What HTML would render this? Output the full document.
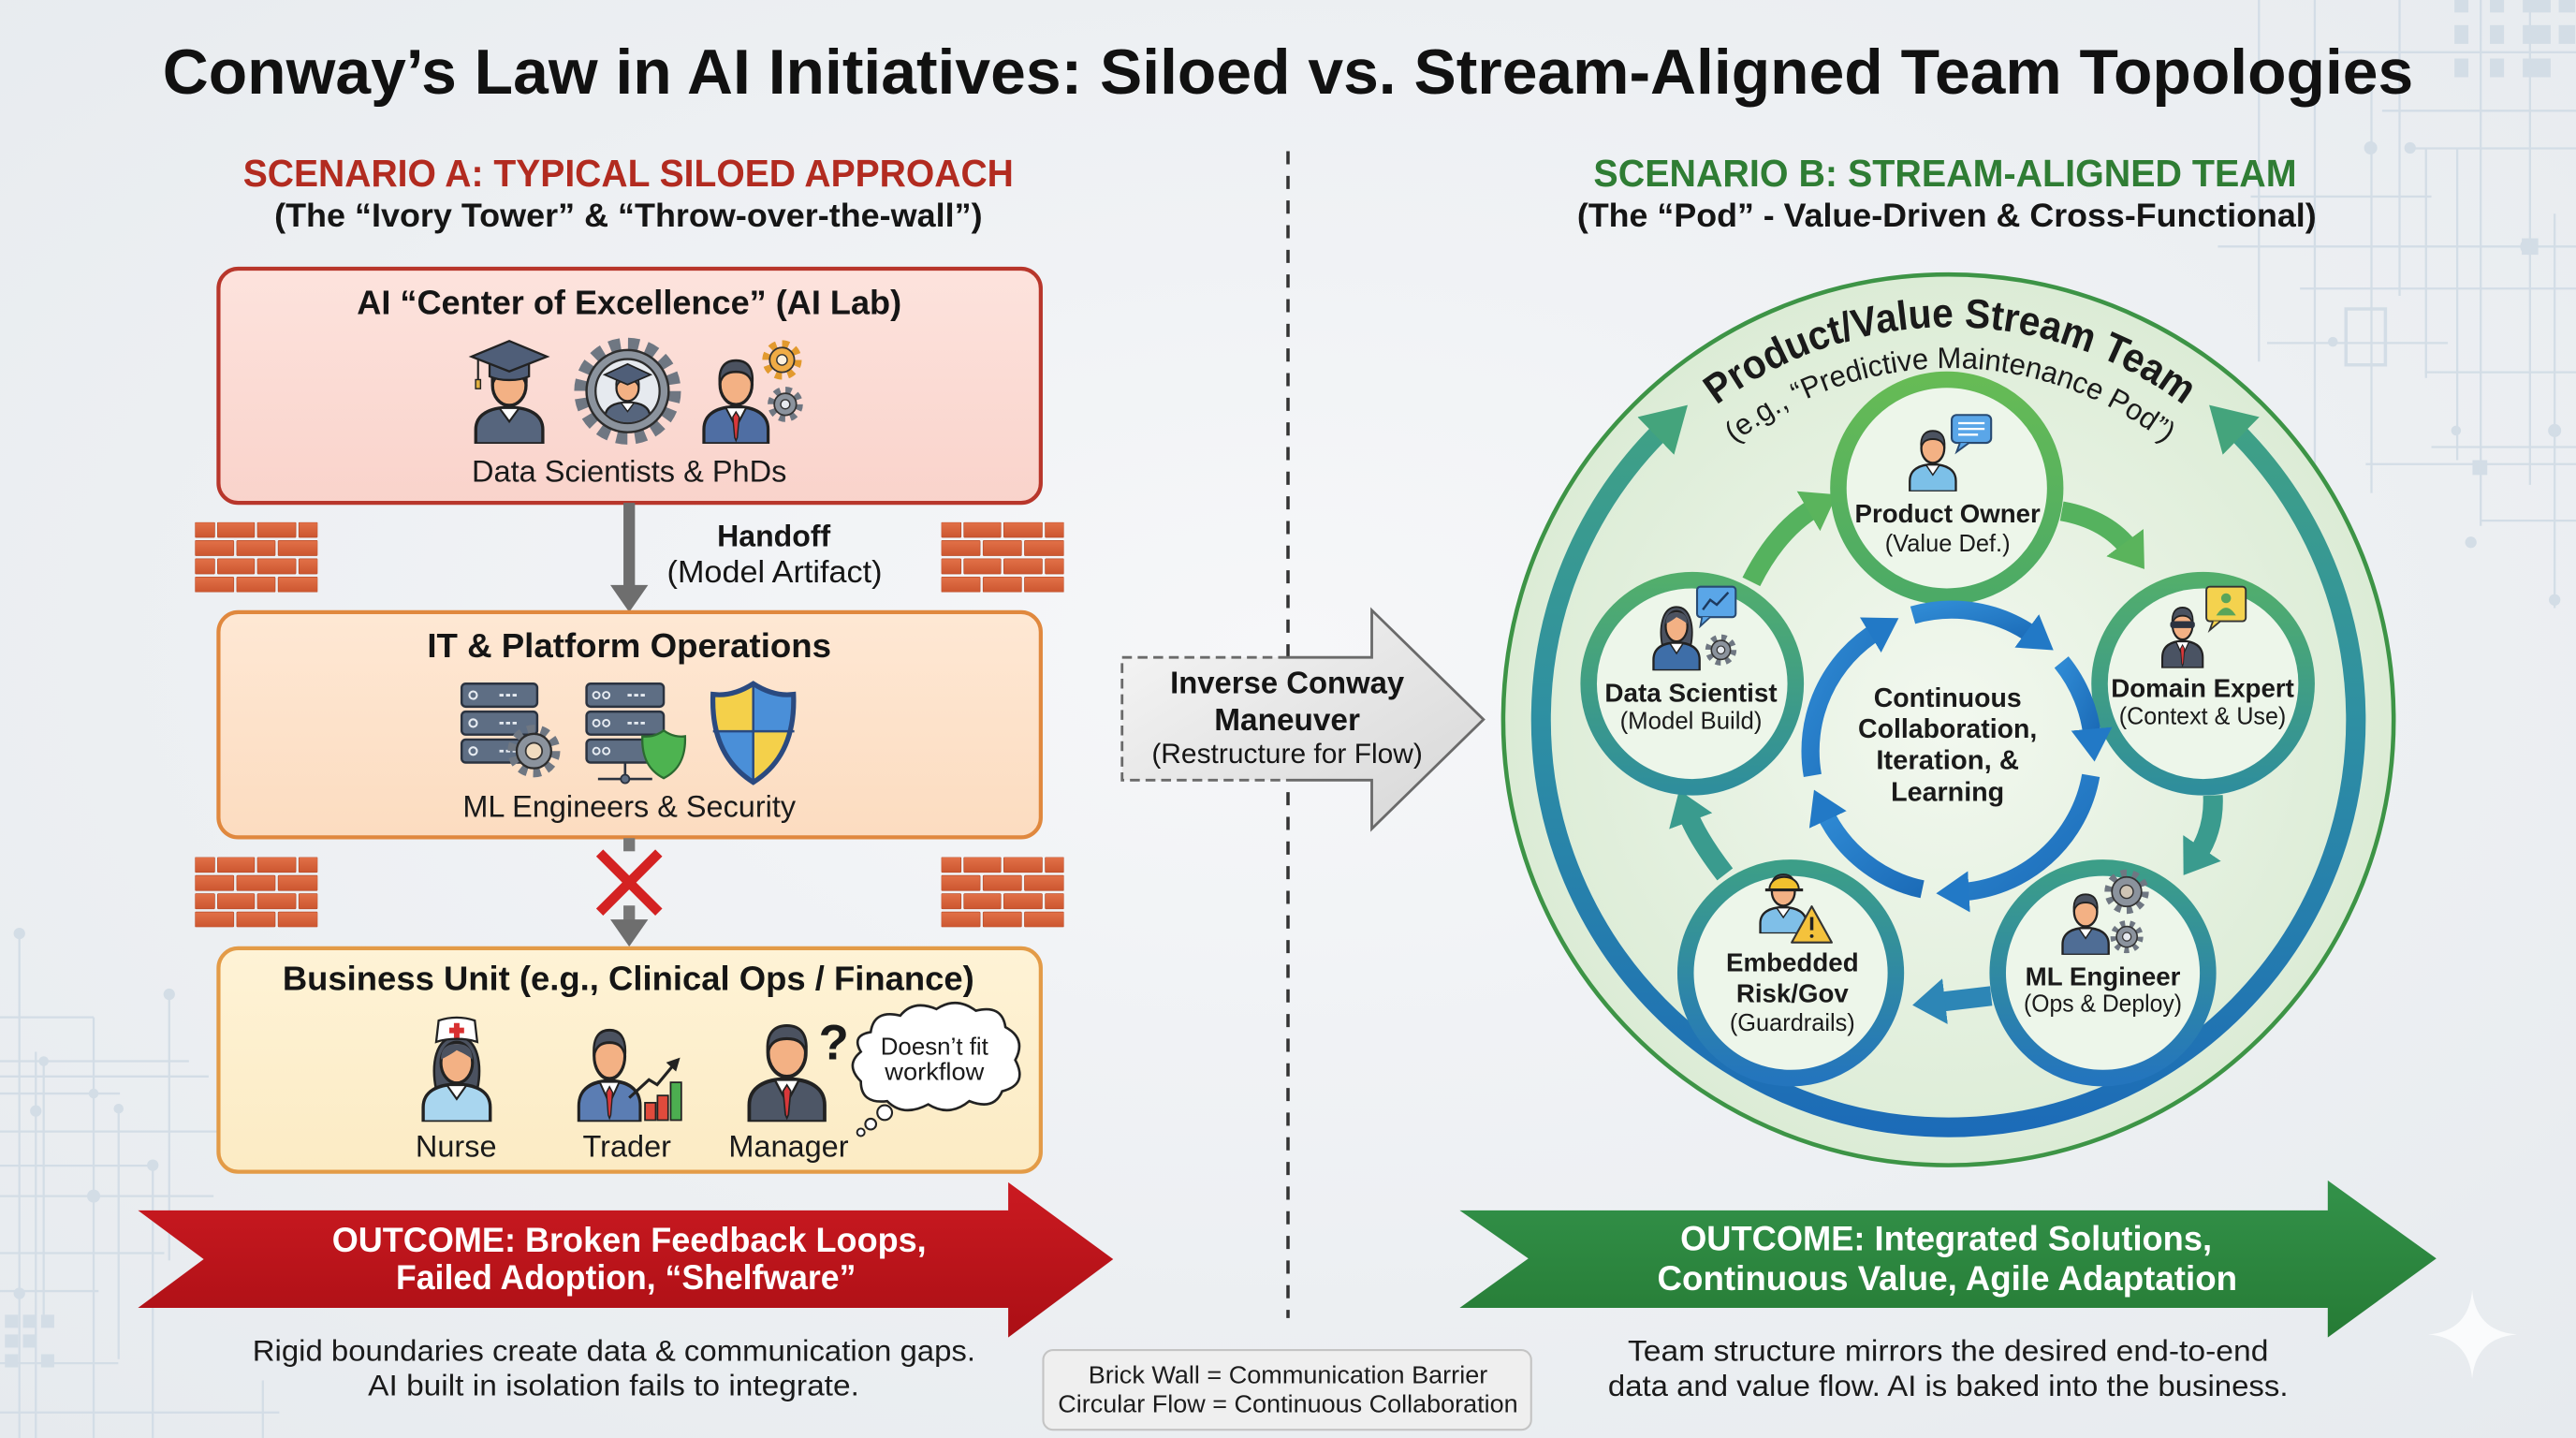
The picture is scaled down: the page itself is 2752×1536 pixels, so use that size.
<!DOCTYPE html>
<html><head><meta charset="utf-8">
<style>
html,body{margin:0;padding:0;background:#edf0f3;}
svg{display:block;}
text{font-family:"Liberation Sans",Arial,sans-serif;}
</style></head><body>
<svg xmlns="http://www.w3.org/2000/svg" width="2752" height="1536" viewBox="0 0 1568 875" preserveAspectRatio="none">
<defs>
<radialGradient id="bg" cx="50%" cy="45%" r="75%"><stop offset="0" stop-color="#f6f7f9"/><stop offset="1" stop-color="#e6eaee"/></radialGradient>
<linearGradient id="gb1" x1="0" y1="0" x2="0" y2="1"><stop offset="0" stop-color="#fde3dd"/><stop offset="1" stop-color="#f9d3cb"/></linearGradient>
<linearGradient id="gb2" x1="0" y1="0" x2="0" y2="1"><stop offset="0" stop-color="#fee8d4"/><stop offset="1" stop-color="#fcdcc0"/></linearGradient>
<linearGradient id="gb3" x1="0" y1="0" x2="0" y2="1"><stop offset="0" stop-color="#fef3d6"/><stop offset="1" stop-color="#fcebc4"/></linearGradient>
<linearGradient id="gred" x1="0" y1="0" x2="0" y2="1"><stop offset="0" stop-color="#cb1a21"/><stop offset="1" stop-color="#ab0f15"/></linearGradient>
<linearGradient id="ggrn" x1="0" y1="0" x2="0" y2="1"><stop offset="0" stop-color="#33924a"/><stop offset="1" stop-color="#267b35"/></linearGradient>
<linearGradient id="gicm" x1="0" y1="0" x2="1" y2="1"><stop offset="0" stop-color="#f6f6f6"/><stop offset="1" stop-color="#d6d6d6"/></linearGradient>
<linearGradient id="gbrick" x1="0" y1="0" x2="0" y2="1"><stop offset="0" stop-color="#e27148"/><stop offset="1" stop-color="#cc5630"/></linearGradient>
<radialGradient id="gcirc" cx="50%" cy="50%" r="50%"><stop offset="0" stop-color="#f2f8ef"/><stop offset="1" stop-color="#dcecd6"/></radialGradient>
<linearGradient id="gring" gradientUnits="userSpaceOnUse" x1="0" y1="190" x2="0" y2="690"><stop offset="0" stop-color="#46a77a"/><stop offset="0.5" stop-color="#2e8fa3"/><stop offset="1" stop-color="#1c6bb8"/></linearGradient>
<linearGradient id="rPO" x1="0" y1="0" x2="0" y2="1"><stop offset="0" stop-color="#66bb55"/><stop offset="1" stop-color="#4caa66"/></linearGradient>
<linearGradient id="rDS" x1="0" y1="0" x2="0" y2="1"><stop offset="0" stop-color="#52ae6c"/><stop offset="1" stop-color="#2f8e9c"/></linearGradient>
<linearGradient id="rEM" x1="0" y1="0" x2="0" y2="1"><stop offset="0" stop-color="#3c9e88"/><stop offset="1" stop-color="#2475bd"/></linearGradient>
<linearGradient id="ginner" x1="0" y1="0" x2="1" y2="1"><stop offset="0" stop-color="#2f8ad4"/><stop offset="1" stop-color="#1c6cb8"/></linearGradient>

<marker id="mOuter" viewBox="0 0 10 10" refX="3" refY="5" markerWidth="27" markerHeight="32" markerUnits="userSpaceOnUse" orient="auto-start-reverse" preserveAspectRatio="none"><path d="M0,0 L10,5 L0,10 Z" fill="#44a47c"/></marker>
<marker id="mIn" viewBox="0 0 10 10" refX="3" refY="5" markerWidth="20" markerHeight="25" markerUnits="userSpaceOnUse" orient="auto" preserveAspectRatio="none"><path d="M0,0 L10,5 L0,10 Z" fill="#2279c6"/></marker>
<marker id="mG" viewBox="0 0 10 10" refX="3" refY="5" markerWidth="20" markerHeight="28" markerUnits="userSpaceOnUse" orient="auto" preserveAspectRatio="none"><path d="M0,0 L10,5 L0,10 Z" fill="#5ab45c"/></marker>
<marker id="mT" viewBox="0 0 10 10" refX="3" refY="5" markerWidth="20" markerHeight="28" markerUnits="userSpaceOnUse" orient="auto" preserveAspectRatio="none"><path d="M0,0 L10,5 L0,10 Z" fill="#3a9b8e"/></marker>
<marker id="mB" viewBox="0 0 10 10" refX="3" refY="5" markerWidth="20" markerHeight="28" markerUnits="userSpaceOnUse" orient="auto" preserveAspectRatio="none"><path d="M0,0 L10,5 L0,10 Z" fill="#2d86b6"/></marker>

<symbol id="p" viewBox="0 0 40 44" preserveAspectRatio="none">
<path d="M3,44 V37 C3,29.5 10,26 20,26 C30,26 37,29.5 37,37 V44 Z" fill="currentColor" stroke="#222" stroke-width="1.6"/>
<path d="M15,26.3 L20,33 L25,26.3 Z" fill="#fff" stroke="#222" stroke-width="1"/>
<ellipse cx="20" cy="15" rx="8.5" ry="10" fill="#f3b184" stroke="#222" stroke-width="1.6"/>
<path d="M11.4,15 C10.5,6.5 14.5,3.5 20,3.5 C25.5,3.5 29.5,6.5 28.6,15 C27.5,10.5 24.5,9 20,9 C15.5,9 12.5,10.5 11.4,15 Z" fill="#4b5260" stroke="#222" stroke-width="1.2"/>
</symbol>
<symbol id="pt" viewBox="0 0 40 44" preserveAspectRatio="none">
<path d="M3,44 V37 C3,29.5 10,26 20,26 C30,26 37,29.5 37,37 V44 Z" fill="currentColor" stroke="#222" stroke-width="1.6"/>
<path d="M14.5,26.3 L20,36 L25.5,26.3 Z" fill="#fff" stroke="#222" stroke-width="1"/>
<path d="M20,28.5 L18.3,31 L19.3,41 L20,42.5 L20.7,41 L21.7,31 Z" fill="#d8383a" stroke="#222" stroke-width="0.7"/>
<ellipse cx="20" cy="15" rx="8.5" ry="10" fill="#f3b184" stroke="#222" stroke-width="1.6"/>
<path d="M11.4,15 C10.5,6.5 14.5,3.5 20,3.5 C25.5,3.5 29.5,6.5 28.6,15 C27.5,10.5 24.5,9 20,9 C15.5,9 12.5,10.5 11.4,15 Z" fill="#4b5260" stroke="#222" stroke-width="1.2"/>
</symbol>
<symbol id="pw" viewBox="0 0 40 44" preserveAspectRatio="none">
<path d="M9.5,28 C7,17 9,3 20,3 C31,3 33,17 30.5,28 Z" fill="#4b5260" stroke="#222" stroke-width="1.2"/>
<path d="M3,44 V37 C3,29.5 10,26 20,26 C30,26 37,29.5 37,37 V44 Z" fill="currentColor" stroke="#222" stroke-width="1.6"/>
<path d="M15,26.3 L20,33 L25,26.3 Z" fill="#fff" stroke="#222" stroke-width="1"/>
<ellipse cx="20" cy="15.5" rx="8" ry="9.8" fill="#f3b184" stroke="#222" stroke-width="1.5"/>
<path d="M12,14 C12,8 15.5,6.5 20,6.5 C24.5,6.5 28,8 28,14 C25,11.5 22,10.5 20,9.5 C18,11 15,12.5 12,14 Z" fill="#4b5260"/>
</symbol>
<symbol id="brick" viewBox="0 0 74.6 42.5" preserveAspectRatio="none">
<g fill="url(#gbrick)" stroke="#b84c2a" stroke-width="0.4">
<rect x="0" y="0" width="12" height="9.2" rx="0.6"/><rect x="13.7" y="0" width="22.5" height="9.2" rx="0.6"/><rect x="38" y="0" width="23.4" height="9.2" rx="0.6"/><rect x="63.2" y="0" width="11.4" height="9.2" rx="0.6"/>
<rect x="0" y="11.1" width="23.6" height="9.2" rx="0.6"/><rect x="25.4" y="11.1" width="23.4" height="9.2" rx="0.6"/><rect x="50.6" y="11.1" width="24" height="9.2" rx="0.6"/>
<rect x="0" y="22.2" width="12" height="9.2" rx="0.6"/><rect x="13.7" y="22.2" width="22.5" height="9.2" rx="0.6"/><rect x="38" y="22.2" width="23.4" height="9.2" rx="0.6"/><rect x="63.2" y="22.2" width="11.4" height="9.2" rx="0.6"/>
<rect x="0" y="33.3" width="23.6" height="9.2" rx="0.6"/><rect x="25.4" y="33.3" width="23.4" height="9.2" rx="0.6"/><rect x="50.6" y="33.3" width="24" height="9.2" rx="0.6"/>
</g>
</symbol>
<clipPath id="gclip"><circle cx="382" cy="238" r="19"/></clipPath>
<clipPath id="shclip"><path d="M458.5,416 C467,421.5 475,423.5 483,422.5 C484,447 476,465 458.5,476 C441,465 433,447 434,422.5 C442,423.5 450,421.5 458.5,416 Z"/></clipPath>
<path id="arcT" d="M1035.3,254.2 A236,236 0 0,1 1338.7,254.2" fill="none"/>
<path id="arcS" d="M1040.4,283.2 A211,211 0 0,1 1333.6,283.2" fill="none"/>
</defs>

<!-- background -->
<rect x="0" y="0" width="1568" height="875" fill="url(#bg)"/>
<g stroke="#d3dde6" stroke-width="1.3" fill="none">
<path d="M1375,0V220 M1409,0V300 M1443.5,50V300 M1460.6,0V180 M1476.7,90V230 M1495.7,90V280 M1510,0V320 M1540,0V295 M1555,130V370"/>
<path d="M1420,31.8H1568 M1450,67.4H1568 M1470,90.3H1568 M1370,119.6H1480 M1350,150H1568 M1400,175.6H1568 M1380,208.7H1490 M1476,226.5H1568 M1480,272H1568 M1440,282.4H1568 M1510,316.8H1568"/>
<path d="M1428,188V222 H1452 V188 Z" stroke-width="2"/>
<path d="M11.8,568V875 M21.8,640V875 M26.6,645V800 M57,619V875 M72.2,675V827 M93,709V875 M103,605V767 M160,840V875"/>
<path d="M0,619H57 M0,645.7H115 M0,655H127 M0,665.4H73 M0,688.5H133 M0,709.3H93 M0,727.8H130 M0,762.5H100 M0,785.6H60 M0,829.5H72 M0,859.5H170"/>
</g>
<g fill="#d3dde6">
<circle cx="1467" cy="90" r="3.5"/><circle cx="1539" cy="150" r="5"/><circle cx="1420" cy="208" r="3"/><circle cx="1495" cy="262" r="3"/><circle cx="1555" cy="262" r="4"/><circle cx="1504" cy="330" r="3.5"/><circle cx="1555" cy="365" r="3.5"/><circle cx="1443" cy="90" r="4"/>
<rect x="1494" y="0" width="8.5" height="7.6"/><rect x="1515.6" y="0" width="8.6" height="7.6"/><rect x="1535.6" y="0" width="17" height="7.6"/><rect x="1557.5" y="0" width="10" height="7.6"/>
<rect x="1494" y="15.3" width="8.5" height="11.4"/><rect x="1515.6" y="15.3" width="8.6" height="11.4"/><rect x="1535.6" y="15.3" width="17" height="11.4"/><rect x="1557.5" y="15.3" width="10" height="11.4"/>
<rect x="1494" y="35.6" width="8.5" height="11.4"/><rect x="1515.6" y="35.6" width="8.6" height="11.4"/><rect x="1535.6" y="35.6" width="17" height="11.4"/><rect x="1535" y="145" width="10" height="10"/><rect x="1505" y="280" width="9" height="9"/>
<circle cx="11.8" cy="568" r="3.5"/><circle cx="103" cy="605" r="3.5"/><circle cx="26.6" cy="645.7" r="3"/><circle cx="57" cy="665.4" r="3"/><circle cx="21.8" cy="676" r="3.5"/><circle cx="72.2" cy="674.6" r="3"/><circle cx="93" cy="709" r="3.5"/><circle cx="57" cy="727.8" r="4"/><circle cx="11.8" cy="787" r="3.5"/>
<rect x="3" y="800" width="8" height="8"/><rect x="14" y="800" width="8" height="8"/><rect x="25" y="800" width="8" height="8"/><rect x="3" y="812" width="8" height="8"/><rect x="14" y="812" width="8" height="8"/><rect x="3" y="824" width="8" height="8"/><rect x="25" y="824" width="8" height="8"/>
</g>
<path d="M1504.8,785 Q1507,810 1532,812 Q1507,814 1504.8,839 Q1502.6,814 1478,812 Q1502.6,810 1504.8,785 Z" fill="#fafbfc"/>

<!-- title -->
<text x="784" y="57" text-anchor="middle" font-size="38.5" font-weight="bold" fill="#111" textLength="1370" lengthAdjust="spacingAndGlyphs">Conway’s Law in AI Initiatives: Siloed vs. Stream-Aligned Team Topologies</text>

<!-- divider -->
<line x1="784" y1="92" x2="784" y2="802" stroke="#333" stroke-width="2" stroke-dasharray="8 7"/>

<!-- scenario headings -->
<text x="382.5" y="113.5" text-anchor="middle" font-size="23" font-weight="bold" fill="#b22b20" textLength="469" lengthAdjust="spacingAndGlyphs">SCENARIO A: TYPICAL SILOED APPROACH</text>
<text x="382.5" y="138" text-anchor="middle" font-size="20" font-weight="bold" fill="#151515" textLength="431" lengthAdjust="spacingAndGlyphs">(The “Ivory Tower” &amp; “Throw-over-the-wall”)</text>
<text x="1184" y="113.5" text-anchor="middle" font-size="23" font-weight="bold" fill="#2f7d34" textLength="428" lengthAdjust="spacingAndGlyphs">SCENARIO B: STREAM-ALIGNED TEAM</text>
<text x="1185" y="138" text-anchor="middle" font-size="20" font-weight="bold" fill="#151515" textLength="450" lengthAdjust="spacingAndGlyphs">(The “Pod” - Value-Driven &amp; Cross-Functional)</text>

<!-- ===== Scenario A ===== -->
<!-- Box 1 -->
<rect x="133" y="163.5" width="500.5" height="142.5" rx="12" fill="url(#gb1)" stroke="#b8362b" stroke-width="2.4"/>
<text x="383" y="191" text-anchor="middle" font-size="20.5" font-weight="bold" fill="#151515" textLength="331.5" lengthAdjust="spacingAndGlyphs">AI “Center of Excellence” (AI Lab)</text>
<!-- graduate -->
<use href="#p" x="286" y="216" width="48" height="54" style="color:#56657d"/>
<path d="M298,221 V229 C304,232 316,232 322,229 V221" fill="#4f5e78" stroke="#222" stroke-width="1.3"/>
<path d="M287,217 L310,207.5 L333,217 L310,226 Z" fill="#4f5e78" stroke="#222" stroke-width="1.3"/>
<line x1="291" y1="218" x2="291" y2="232" stroke="#222" stroke-width="1.2"/>
<rect x="289.5" y="231" width="3" height="5.5" fill="#e0b040" stroke="#222" stroke-width="0.8"/>
<!-- gear graduate -->
<circle cx="382" cy="238" r="28" fill="none" stroke="#6f7782" stroke-width="9" stroke-dasharray="6.5 4.5"/>
<circle cx="382" cy="238" r="25" fill="#8b939d" stroke="#2d2d2d" stroke-width="1.4"/>
<circle cx="382" cy="238" r="19.5" fill="#e6eaef" stroke="#2d2d2d" stroke-width="1.3"/>
<g clip-path="url(#gclip)"><use href="#p" x="366" y="224" width="32" height="35.2" style="color:#56657d"/></g>
<path d="M368,228 L382,221.5 L396,228 L382,234 Z" fill="#4f5e78" stroke="#222" stroke-width="1"/>
<!-- man with gears -->
<use href="#pt" x="425" y="215" width="46" height="55" style="color:#4f6ea3"/>
<circle cx="476" cy="219" r="9.5" fill="none" stroke="#e29a2e" stroke-width="5" stroke-dasharray="4 3.46"/>
<circle cx="476" cy="219" r="7.5" fill="#f0ac45" stroke="#333" stroke-width="1"/>
<circle cx="476" cy="219" r="3.2" fill="#fdf0dc" stroke="#333" stroke-width="0.8"/>
<circle cx="478" cy="246" r="8.5" fill="none" stroke="#6f7782" stroke-width="4.5" stroke-dasharray="3.6 3.08"/>
<circle cx="478" cy="246" r="6.7" fill="#8b939d" stroke="#333" stroke-width="1"/>
<circle cx="478" cy="246" r="2.8" fill="#e6eaef" stroke="#333" stroke-width="0.8"/>
<text x="383" y="293" text-anchor="middle" font-size="18.5" fill="#1a1a1a" textLength="191.7" lengthAdjust="spacingAndGlyphs">Data Scientists &amp; PhDs</text>

<!-- handoff -->
<line x1="383" y1="306" x2="383" y2="358" stroke="#6e6e6e" stroke-width="7"/>
<polygon points="371.5,356 394.5,356 383,372.5" fill="#6e6e6e"/>
<text x="471" y="332.5" text-anchor="middle" font-size="18.5" font-weight="bold" fill="#151515" textLength="69" lengthAdjust="spacingAndGlyphs">Handoff</text>
<text x="471.5" y="354.3" text-anchor="middle" font-size="19" fill="#151515" textLength="131" lengthAdjust="spacingAndGlyphs">(Model Artifact)</text>
<use href="#brick" x="118.7" y="317.8" width="74.6" height="42.5"/>
<use href="#brick" x="573" y="317.8" width="74.6" height="42.5"/>

<!-- Box 2 -->
<rect x="133" y="372.5" width="500.5" height="137" rx="12" fill="url(#gb2)" stroke="#e0883e" stroke-width="2.4"/>
<text x="383" y="400" text-anchor="middle" font-size="20.5" font-weight="bold" fill="#151515" textLength="246" lengthAdjust="spacingAndGlyphs">IT &amp; Platform Operations</text>
<!-- server A -->
<g fill="#5e6e84" stroke="#2b3340" stroke-width="1.4">
<rect x="281" y="416" width="46" height="14" rx="2.5"/><rect x="281" y="433" width="46" height="14" rx="2.5"/><rect x="281" y="450" width="46" height="14" rx="2.5"/>
</g>
<g fill="none" stroke="#e6ebf1" stroke-width="1.2">
<circle cx="288" cy="423" r="2.3"/><circle cx="288" cy="440" r="2.3"/><circle cx="288" cy="457" r="2.3"/>
<path d="M304,423H316 M304,440H316 M304,457H316" stroke-width="1.6" stroke-dasharray="2.5 1.5"/>
</g>
<circle cx="325" cy="457" r="13" fill="none" stroke="#6f7782" stroke-width="6" stroke-dasharray="4.5 3.67"/>
<circle cx="325" cy="457" r="10.5" fill="#8b939d" stroke="#2d2d2d" stroke-width="1.3"/>
<circle cx="325" cy="457" r="5" fill="#f0dcc0" stroke="#333" stroke-width="1"/>
<!-- server B -->
<g fill="#5e6e84" stroke="#2b3340" stroke-width="1.4">
<rect x="357" y="416" width="47" height="14" rx="2.5"/><rect x="357" y="433" width="47" height="14" rx="2.5"/><rect x="357" y="450" width="47" height="14" rx="2.5"/>
</g>
<g fill="none" stroke="#e6ebf1" stroke-width="1.1">
<circle cx="363" cy="423" r="2"/><circle cx="369" cy="423" r="2"/><circle cx="363" cy="440" r="2"/><circle cx="369" cy="440" r="2"/><circle cx="363" cy="457" r="2"/><circle cx="369" cy="457" r="2"/>
<path d="M382,423H394 M382,440H394" stroke-width="1.6" stroke-dasharray="2.5 1.5"/>
</g>
<path d="M380.5,464V474 M364,474H397" stroke="#2b3340" stroke-width="1.5"/>
<circle cx="380.5" cy="474" r="2.6" fill="#5e6e84" stroke="#2b3340" stroke-width="1"/>
<path d="M404,444.5 C409,448 413,448.5 417,448 C417.5,461 413,469 404,473.5 C395,469 390.5,461 391,448 C395,448.5 399,448 404,444.5 Z" fill="#4db350" stroke="#2b6a30" stroke-width="1.3"/>
<!-- shield -->
<g clip-path="url(#shclip)">
<rect x="430" y="414" width="28.5" height="31" fill="#f4d04a"/><rect x="458.5" y="414" width="28" height="31" fill="#4a8fd8"/>
<rect x="430" y="445" width="28.5" height="33" fill="#4a8fd8"/><rect x="458.5" y="445" width="28" height="33" fill="#f4d04a"/>
</g>
<path d="M458.5,416V476 M434,445H483.5" stroke="#2a4a80" stroke-width="1.4"/>
<path d="M458.5,416 C467,421.5 475,423.5 483,422.5 C484,447 476,465 458.5,476 C441,465 433,447 434,422.5 C442,423.5 450,421.5 458.5,416 Z" fill="none" stroke="#2a4a80" stroke-width="3"/>
<text x="383" y="497" text-anchor="middle" font-size="18.5" fill="#1a1a1a" textLength="202.7" lengthAdjust="spacingAndGlyphs">ML Engineers &amp; Security</text>

<!-- broken link -->
<line x1="383" y1="510" x2="383" y2="518" stroke="#777" stroke-width="7"/>
<line x1="383" y1="551" x2="383" y2="561" stroke="#777" stroke-width="7"/>
<polygon points="371.5,559.5 394.5,559.5 383,576" fill="#6e6e6e"/>
<path d="M365,519 L401,555 M401,519 L365,555" stroke="#d42222" stroke-width="6"/>
<use href="#brick" x="118.7" y="521.6" width="74.6" height="42.5"/>
<use href="#brick" x="573" y="521.6" width="74.6" height="42.5"/>

<!-- Box 3 -->
<rect x="133" y="577" width="500.5" height="136" rx="12" fill="url(#gb3)" stroke="#e39b47" stroke-width="2.4"/>
<text x="382.5" y="602.3" text-anchor="middle" font-size="20.5" font-weight="bold" fill="#151515" textLength="421" lengthAdjust="spacingAndGlyphs">Business Unit (e.g., Clinical Ops / Finance)</text>
<!-- nurse -->
<use href="#pw" x="254" y="627" width="48" height="55.6" style="color:#a9d6ef"/>
<path d="M265.5,634 L267,621 C274,618.5 282,618.5 289,621 L290.5,634 C283,631.5 273,631.5 265.5,634 Z" fill="#fff" stroke="#222" stroke-width="1.3"/>
<rect x="276.3" y="622.5" width="3.4" height="9" fill="#d83030"/><rect x="273.5" y="625.3" width="9" height="3.4" fill="#d83030"/>
<!-- trader -->
<use href="#pt" x="349" y="622" width="44" height="60.6" style="color:#5b7db3"/>
<g stroke="#222" stroke-width="1">
<rect x="392.6" y="671" width="6.5" height="10.6" fill="#e04b3c"/>
<rect x="400.2" y="666.6" width="6.5" height="15" fill="#e04b3c"/>
<rect x="408.2" y="658.6" width="6.5" height="23" fill="#4cae50"/>
</g>
<polyline points="383,668 395,657 400,660 410,648" fill="none" stroke="#222" stroke-width="1.8"/>
<polygon points="414,643.5 405.5,646.5 411.5,652" fill="#222"/>
<!-- manager -->
<use href="#pt" x="452" y="619" width="54" height="63.6" style="color:#4d5666"/>
<text x="507.5" y="644.5" text-anchor="middle" font-size="30" font-weight="bold" fill="#1a1a1a">?</text>
<!-- cloud -->
<path d="M530,628 Q532,614 548,618 Q556,608 570,614 Q582,606 594,615 Q610,611 612,625 Q625,632 618,645 Q626,660 610,664 Q605,676 590,670 Q578,680 565,672 Q550,680 540,670 Q524,672 524,658 Q514,648 524,640 Q518,630 530,628 Z" fill="#fff" stroke="#222" stroke-width="1.5"/>
<circle cx="538.5" cy="677" r="4.5" fill="#fff" stroke="#222" stroke-width="1.2"/>
<circle cx="530" cy="684" r="3.3" fill="#fff" stroke="#222" stroke-width="1.2"/>
<circle cx="524" cy="689" r="2.3" fill="#fff" stroke="#222" stroke-width="1.1"/>
<text x="568.8" y="641.6" text-anchor="middle" font-size="14.7" fill="#1a1a1a" textLength="65.6" lengthAdjust="spacingAndGlyphs">Doesn’t fit</text>
<text x="568.8" y="657" text-anchor="middle" font-size="14.7" fill="#1a1a1a" textLength="60.4" lengthAdjust="spacingAndGlyphs">workflow</text>
<text x="277.6" y="703.7" text-anchor="middle" font-size="18.5" fill="#1a1a1a">Nurse</text>
<text x="381.6" y="703.7" text-anchor="middle" font-size="18.5" fill="#1a1a1a">Trader</text>
<text x="480" y="703.7" text-anchor="middle" font-size="18.5" fill="#1a1a1a">Manager</text>

<!-- red outcome -->
<polygon points="84,736.5 613.7,736.5 613.7,719.4 677.6,766.2 613.7,813.8 613.7,795.8 84,795.8 124,766.2" fill="url(#gred)"/>
<text x="383" y="761.6" text-anchor="middle" font-size="21" font-weight="bold" fill="#fff" textLength="361.8" lengthAdjust="spacingAndGlyphs">OUTCOME: Broken Feedback Loops,</text>
<text x="381" y="784.4" text-anchor="middle" font-size="21" font-weight="bold" fill="#fff" textLength="280" lengthAdjust="spacingAndGlyphs">Failed Adoption, “Shelfware”</text>
<text x="373.7" y="827.9" text-anchor="middle" font-size="18" fill="#1a1a1a" textLength="440" lengthAdjust="spacingAndGlyphs">Rigid boundaries create data &amp; communication gaps.</text>
<text x="373.5" y="849" text-anchor="middle" font-size="18" fill="#1a1a1a" textLength="299" lengthAdjust="spacingAndGlyphs">AI built in isolation fails to integrate.</text>

<!-- ===== Inverse Conway ===== -->
<polygon points="683,400 835,400 835,371.3 903,437.8 835,504.3 835,474.7 683,474.7" fill="url(#gicm)"/>
<polyline points="784,400 683,400 683,474.7 784,474.7" fill="none" stroke="#6a6a6a" stroke-width="1.6" stroke-dasharray="6 3.5"/>
<polyline points="784,400 835,400 835,371.3 903,437.8 835,504.3 835,474.7 784,474.7" fill="none" stroke="#6a6a6a" stroke-width="1.6" stroke-linejoin="miter"/>
<text x="783.5" y="421.7" text-anchor="middle" font-size="19" font-weight="bold" fill="#151515" textLength="142.5" lengthAdjust="spacingAndGlyphs">Inverse Conway</text>
<text x="783.5" y="444.4" text-anchor="middle" font-size="19" font-weight="bold" fill="#151515">Maneuver</text>
<text x="783.5" y="464.4" text-anchor="middle" font-size="17" fill="#151515" textLength="165" lengthAdjust="spacingAndGlyphs">(Restructure for Flow)</text>

<!-- legend -->
<rect x="635" y="821.5" width="297" height="48.5" rx="6" fill="#efefef" stroke="#c4c4c4" stroke-width="1.2"/>
<text x="784" y="841.6" text-anchor="middle" font-size="15" fill="#1c1c1c" textLength="243" lengthAdjust="spacingAndGlyphs">Brick Wall = Communication Barrier</text>
<text x="784" y="859.3" text-anchor="middle" font-size="15" fill="#1c1c1c" textLength="280" lengthAdjust="spacingAndGlyphs">Circular Flow = Continuous Collaboration</text>

<!-- ===== Scenario B ===== -->
<circle cx="1186" cy="438" r="271" fill="url(#gcirc)" stroke="#3d9446" stroke-width="2.6"/>
<path d="M1013.7,259.6 A248,248 0 1,0 1358.3,259.6" fill="none" stroke="url(#gring)" stroke-width="12" marker-start="url(#mOuter)" marker-end="url(#mOuter)"/>

<text font-size="25" font-weight="bold" fill="#1a1a1a"><textPath href="#arcT" startOffset="50%" text-anchor="middle" textLength="305" lengthAdjust="spacingAndGlyphs">Product/Value Stream Team</textPath></text>
<text font-size="18" fill="#1a1a1a"><textPath href="#arcS" startOffset="50%" text-anchor="middle" textLength="283" lengthAdjust="spacingAndGlyphs">(e.g., “Predictive Maintenance Pod”)</textPath></text>

<!-- connectors -->
<path d="M1066,354 Q1082,322 1106,308" fill="none" stroke="#55b25e" stroke-width="12" marker-end="url(#mG)"/>
<path d="M1255,311 Q1283,316 1297,335" fill="none" stroke="#55b25e" stroke-width="12" marker-end="url(#mG)"/>
<path d="M1347,484 Q1348,505 1337,521" fill="none" stroke="#3a9b8e" stroke-width="12" marker-end="url(#mT)"/>
<path d="M1212,606 L1178,610" fill="none" stroke="#2d86b6" stroke-width="12" marker-end="url(#mB)"/>
<path d="M1050,532 Q1033,510 1027,494" fill="none" stroke="#3a9b8e" stroke-width="12" marker-end="url(#mT)"/>

<!-- node circles -->
<circle cx="1185" cy="297" r="66" fill="#edf6ea" stroke="url(#rPO)" stroke-width="10"/>
<circle cx="1030" cy="416" r="63" fill="#edf6ea" stroke="url(#rDS)" stroke-width="10"/>
<circle cx="1341" cy="416" r="63" fill="#edf6ea" stroke="url(#rDS)" stroke-width="10"/>
<circle cx="1090" cy="592" r="64" fill="#edf6ea" stroke="url(#rEM)" stroke-width="10"/>
<circle cx="1280" cy="592" r="64" fill="#edf6ea" stroke="url(#rEM)" stroke-width="10"/>

<!-- inner ring -->
<g fill="none" stroke="url(#ginner)" stroke-width="11">
<path d="M1103.3,471.9 A86,86 0 0,1 1143.7,383.3" marker-end="url(#mIn)"/>
<path d="M1164.3,374.3 A86,86 0 0,1 1238.6,387.4" marker-end="url(#mIn)"/>
<path d="M1254.8,402.9 A86,86 0 0,1 1273.7,449.5" marker-end="url(#mIn)"/>
<path d="M1272.7,471.9 A86,86 0 0,1 1192.5,542.9" marker-end="url(#mIn)"/>
<path d="M1170.1,541.1 A86,86 0 0,1 1110.1,493.3" marker-end="url(#mIn)"/>
</g>
<text x="1185.5" y="430" text-anchor="middle" font-size="16.5" font-weight="bold" fill="#1a1a1a" textLength="90" lengthAdjust="spacingAndGlyphs">Continuous</text>
<text x="1185.5" y="449" text-anchor="middle" font-size="16.5" font-weight="bold" fill="#1a1a1a" textLength="109" lengthAdjust="spacingAndGlyphs">Collaboration,</text>
<text x="1185.5" y="468" text-anchor="middle" font-size="16.5" font-weight="bold" fill="#1a1a1a" textLength="87" lengthAdjust="spacingAndGlyphs">Iteration, &amp;</text>
<text x="1185.5" y="487.4" text-anchor="middle" font-size="16.5" font-weight="bold" fill="#1a1a1a" textLength="69" lengthAdjust="spacingAndGlyphs">Learning</text>

<!-- PO -->
<use href="#p" x="1160" y="259" width="33" height="40" style="color:#7cc0e8"/>
<rect x="1188" y="252.5" width="24" height="17" rx="3" fill="#5aa6e8" stroke="#284a72" stroke-width="1.2"/>
<path d="M1193,269.5 L1191,275 L1198.5,269.5" fill="#5aa6e8" stroke="#284a72" stroke-width="1.1"/>
<path d="M1192,257.5H1208 M1192,261H1208 M1192,264.5H1204" stroke="#fff" stroke-width="1.3"/>
<text x="1185.5" y="318" text-anchor="middle" font-size="16" font-weight="bold" fill="#1a1a1a" textLength="113" lengthAdjust="spacingAndGlyphs">Product Owner</text>
<text x="1185.5" y="335.5" text-anchor="middle" font-size="14.5" fill="#1a1a1a" textLength="76.3" lengthAdjust="spacingAndGlyphs">(Value Def.)</text>

<!-- DS -->
<use href="#pw" x="1004" y="366.5" width="33" height="41.5" style="color:#3e6ea8"/>
<rect x="1033" y="357" width="23.5" height="18.5" rx="2" fill="#5aa6e8" stroke="#284a72" stroke-width="1.2"/>
<path d="M1036,375.5 L1035,381 L1041,375.5" fill="#5aa6e8" stroke="#284a72" stroke-width="1"/>
<polyline points="1036.5,371 1041,365 1045,368 1052,360.5" fill="none" stroke="#1d3a5f" stroke-width="1.4"/>
<circle cx="1047.5" cy="395.5" r="7.5" fill="none" stroke="#6f7782" stroke-width="4" stroke-dasharray="3 2.9"/>
<circle cx="1047.5" cy="395.5" r="5.8" fill="#8b939d" stroke="#333" stroke-width="0.9"/>
<circle cx="1047.5" cy="395.5" r="2.4" fill="#e6eaef" stroke="#333" stroke-width="0.7"/>
<text x="1029.3" y="427" text-anchor="middle" font-size="16" font-weight="bold" fill="#1a1a1a" textLength="105" lengthAdjust="spacingAndGlyphs">Data Scientist</text>
<text x="1029.3" y="443.5" text-anchor="middle" font-size="14.5" fill="#1a1a1a" textLength="86.5" lengthAdjust="spacingAndGlyphs">(Model Build)</text>

<!-- DE -->
<use href="#pt" x="1314" y="366.5" width="29" height="40" style="color:#4a5363"/>
<rect x="1321" y="378" width="15" height="4.2" rx="1.6" fill="#2c3340"/>
<rect x="1343" y="357" width="24" height="21" rx="2" fill="#f4d24e" stroke="#333" stroke-width="1.1"/>
<path d="M1347,378 L1345,383.5 L1351.5,378" fill="#f4d24e" stroke="#333" stroke-width="1"/>
<circle cx="1355" cy="364" r="3" fill="#5aa55a"/>
<path d="M1349,374.5 Q1355,365 1361,374.5 Z" fill="#5aa55a"/>
<text x="1340.7" y="424" text-anchor="middle" font-size="16" font-weight="bold" fill="#1a1a1a" textLength="111.5" lengthAdjust="spacingAndGlyphs">Domain Expert</text>
<text x="1340.7" y="440.5" text-anchor="middle" font-size="14.5" fill="#1a1a1a" textLength="101.7" lengthAdjust="spacingAndGlyphs">(Context &amp; Use)</text>

<!-- Embedded -->
<use href="#p" x="1069" y="529" width="33" height="39" style="color:#7fbfe8"/>
<path d="M1077,541.5 C1077,531 1095,531 1095,541.5 Z" fill="#f2c12e" stroke="#222" stroke-width="1.1"/>
<line x1="1074.5" y1="541.5" x2="1097.5" y2="541.5" stroke="#222" stroke-width="1.8"/>
<polygon points="1102.8,551.5 1115,573.5 1090.6,573.5" fill="#f4c23c" stroke="#333" stroke-width="1.2" stroke-linejoin="round"/>
<line x1="1102.8" y1="558" x2="1102.8" y2="566" stroke="#222" stroke-width="2"/>
<circle cx="1102.8" cy="569.6" r="1.1" fill="#222"/>
<text x="1091" y="591" text-anchor="middle" font-size="16" font-weight="bold" fill="#1a1a1a" textLength="80.7" lengthAdjust="spacingAndGlyphs">Embedded</text>
<text x="1091" y="609.8" text-anchor="middle" font-size="16" font-weight="bold" fill="#1a1a1a" textLength="68.3" lengthAdjust="spacingAndGlyphs">Risk/Gov</text>
<text x="1091" y="627.3" text-anchor="middle" font-size="14.5" fill="#1a1a1a" textLength="76.3" lengthAdjust="spacingAndGlyphs">(Guardrails)</text>

<!-- ML -->
<use href="#p" x="1253" y="541" width="33" height="40" style="color:#4f6d95"/>
<circle cx="1294.5" cy="542.6" r="11" fill="none" stroke="#6f7782" stroke-width="5" stroke-dasharray="3.45 3.45"/>
<circle cx="1294.5" cy="542.6" r="9" fill="#8b939d" stroke="#333" stroke-width="1"/>
<circle cx="1294.5" cy="542.6" r="4" fill="#cfc5b5" stroke="#333" stroke-width="0.8"/>
<circle cx="1294.6" cy="570" r="8" fill="none" stroke="#6f7782" stroke-width="4" stroke-dasharray="2.8 2.83"/>
<circle cx="1294.6" cy="570" r="6.3" fill="#8b939d" stroke="#333" stroke-width="0.9"/>
<circle cx="1294.6" cy="570" r="2.6" fill="#e6eaef" stroke="#333" stroke-width="0.7"/>
<text x="1280" y="599.5" text-anchor="middle" font-size="16" font-weight="bold" fill="#1a1a1a" textLength="94.5" lengthAdjust="spacingAndGlyphs">ML Engineer</text>
<text x="1280" y="615.5" text-anchor="middle" font-size="14.5" fill="#1a1a1a" textLength="96.3" lengthAdjust="spacingAndGlyphs">(Ops &amp; Deploy)</text>

<!-- green outcome -->
<polygon points="888.5,736.5 1416.9,736.5 1416.9,718.3 1483,765.8 1416.9,813.8 1416.9,795.8 888.5,795.8 930.3,765.8" fill="url(#ggrn)"/>
<text x="1184.6" y="760.7" text-anchor="middle" font-size="21" font-weight="bold" fill="#fff" textLength="323.6" lengthAdjust="spacingAndGlyphs">OUTCOME: Integrated Solutions,</text>
<text x="1185.3" y="785" text-anchor="middle" font-size="21" font-weight="bold" fill="#fff" textLength="353" lengthAdjust="spacingAndGlyphs">Continuous Value, Agile Adaptation</text>
<text x="1185.8" y="828" text-anchor="middle" font-size="18" fill="#1a1a1a" textLength="390" lengthAdjust="spacingAndGlyphs">Team structure mirrors the desired end-to-end</text>
<text x="1185.8" y="849.3" text-anchor="middle" font-size="18" fill="#1a1a1a" textLength="414" lengthAdjust="spacingAndGlyphs">data and value flow. AI is baked into the business.</text>
</svg>
</body></html>
